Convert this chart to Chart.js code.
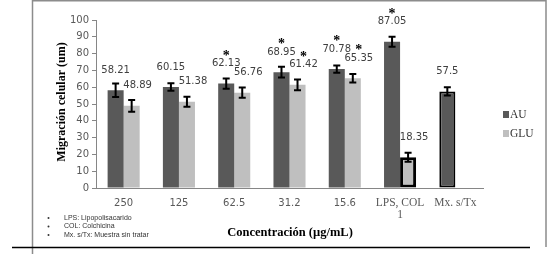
<!DOCTYPE html>
<html><head><meta charset="utf-8">
<script src="https://cdn.jsdelivr.net/npm/chart.js@4/dist/chart.umd.min.js"></script>
<style>html,body{margin:0;padding:0;background:#fff;overflow:hidden}</style>
</head><body><canvas id="c" width="549" height="254"></canvas>
<script>
const categories = ['250', '125', '62.5', '31.2', '15.6', ['LPS, COL', '1'], 'Mx. s/Tx'];
const auValues  = [58.21, 60.15, 62.13, 68.95, 70.78, 87.05, 57.5];
const gluValues = [48.89, 51.38, 56.76, 61.42, 65.35, 18.35, null];
const auErrors  = [4.0, 2.2, 3.0, 3.2, 2.2, 3.0, 2.5];
const gluErrors = [3.5, 3.0, 3.0, 3.2, 2.5, 2.7, null];
const auSignificant  = [false, false, true, true, true, true, false];
const gluSignificant = [false, false, false, true, true, false, false];
const yTicks = [0, 10, 20, 30, 40, 50, 60, 70, 80, 90, 100];
const notes = ['LPS: Lipopolisacarido', 'COL: Colchicina', 'Mx. s/Tx: Muestra sin tratar'];

const AU_COLOR = '#595959', GLU_COLOR = '#bfbfbf';
const auBorder = [0, 0, 0, 0, 0, 0, 2];
const gluBorder = [0, 0, 0, 0, 0, 3, 0];

const errs = [auErrors, gluErrors];
const sigs = [auSignificant, gluSignificant];

const decorPlugin = {
  id: 'decor',
  beforeDraw(chart) {
    const ctx = chart.ctx;
    ctx.save(); ctx.fillStyle = '#fff'; ctx.fillRect(0, 0, chart.width, chart.height); ctx.restore();
  },
  afterDatasetsDraw(chart) {
    const ctx = chart.ctx, y = chart.scales.y;
    ctx.save();
    chart.data.datasets.forEach((ds, di) => {
      const meta = chart.getDatasetMeta(di);
      meta.data.forEach((bar, i) => {
        const v = ds.data[i];
        if (v == null) return;
        const e = errs[di][i];
        const yt = y.getPixelForValue(v + e), yb = y.getPixelForValue(v - e);
        const x = bar.x;
        ctx.strokeStyle = '#000'; ctx.lineWidth = 2;
        ctx.beginPath();
        ctx.moveTo(x, yt); ctx.lineTo(x, yb);
        ctx.moveTo(x - 3.5, yt); ctx.lineTo(x + 3.5, yt);
        ctx.moveTo(x - 3.5, yb); ctx.lineTo(x + 3.5, yb);
        ctx.stroke();
        // value label
        const lx = x + (di === 1 ? 6 : 0);
        const ly = bar.y - 20;
        ctx.fillStyle = '#404040';
        ctx.font = '10px "DejaVu Sans"';
        ctx.textAlign = 'center'; ctx.textBaseline = 'middle';
        ctx.fillText(String(v), lx, ly);
        if (sigs[di][i]) {
          ctx.fillStyle = '#000';
          ctx.font = 'bold 14px "Liberation Serif"';
          ctx.textBaseline = 'alphabetic';
          ctx.fillText('*', lx, ly - 12 + 8);
        }
      });
    });
    ctx.restore();
  },
  afterDraw(chart) {
    const ctx = chart.ctx, ca = chart.chartArea;
    ctx.save();
    // frame
    ctx.strokeStyle = '#8c8c8c'; ctx.lineWidth = 1.5;
    ctx.beginPath();
    ctx.moveTo(32.5, 254); ctx.lineTo(32.5, 0.75); ctx.lineTo(546, 0.75); ctx.lineTo(546, 247);
    ctx.stroke();
    ctx.strokeStyle = '#000'; ctx.lineWidth = 1.5;
    ctx.beginPath(); ctx.moveTo(12, 247.5); ctx.lineTo(530, 247.5); ctx.stroke();
    // y title
    ctx.fillStyle = '#000';
    ctx.font = 'bold 12px "Liberation Serif"';
    ctx.textAlign = 'center'; ctx.textBaseline = 'middle';
    ctx.save(); ctx.translate(62, (ca.top + ca.bottom) / 2 - 2); ctx.rotate(-Math.PI / 2);
    ctx.fillText('Migración celular (um)', 0, 0); ctx.restore();
    // x title
    ctx.font = 'bold 12.5px "Liberation Serif"';
    ctx.fillText('Concentración (µg/mL)', 290, 233);
    // notes
    ctx.font = '7px "Liberation Sans"'; ctx.fillStyle = '#333';
    ctx.textAlign = 'left';
    notes.forEach((n, k) => {
      const yy = 218 + k * 8.5;
      ctx.beginPath(); ctx.arc(48.5, yy, 1, 0, Math.PI * 2); ctx.fill();
      ctx.fillText(n, 64, yy);
    });
    // legend
    const items = [['AU', AU_COLOR], ['GLU', GLU_COLOR]];
    ctx.font = '11.5px "Liberation Serif"';
    items.forEach(([t, c], k) => {
      const yy = 114.5 + k * 19;
      ctx.fillStyle = c; ctx.fillRect(503, yy - 3.5, 6, 7);
      ctx.fillStyle = '#333'; ctx.fillText(t, 510, yy + 0.5);
    });
    ctx.restore();
  }
};

new Chart(document.getElementById('c'), {
  type: 'bar',
  data: {
    labels: categories,
    datasets: [
      { label: 'AU', data: auValues, backgroundColor: AU_COLOR, borderColor: '#000',
        borderWidth: c => auBorder[c.dataIndex] || 0, borderSkipped: false,
        categoryPercentage: 0.58, barPercentage: 1.0 },
      { label: 'GLU', data: gluValues, backgroundColor: GLU_COLOR, borderColor: '#000',
        borderWidth: c => gluBorder[c.dataIndex] || 0, borderSkipped: false,
        categoryPercentage: 0.58, barPercentage: 1.0 }
    ]
  },
  options: {
    responsive: false, animation: false, devicePixelRatio: 1,
    layout: { padding: { left: 0, top: 20, right: 66, bottom: 0 } },
    plugins: { legend: { display: false }, title: { display: false }, tooltip: { enabled: false } },
    scales: {
      x: {
        afterFit: s => { s.height = 66; },
        grid: { display: true, drawOnChartArea: false, drawTicks: false },
        border: { display: true, color: '#868686', width: 1 },
        ticks: {
          padding: 9, color: '#595959', maxRotation: 0, autoSkip: false,
          font: c => (c.index >= 5 ? { family: '"Liberation Serif"', size: 11.5, lineHeight: 1.05 } : { family: '"DejaVu Sans"', size: 10 })
        }
      },
      y: {
        min: 0, max: 100,
        afterFit: s => { s.width = 96; },
        afterBuildTicks: s => { s.ticks = yTicks.map(v => ({ value: v })); },
        grid: { display: true, drawOnChartArea: false, drawTicks: true, tickLength: 4, color: '#868686' },
        border: { display: true, color: '#868686', width: 1 },
        ticks: { padding: 3, color: '#595959', font: { family: '"DejaVu Sans"', size: 10 } }
      }
    }
  },
  plugins: [decorPlugin]
});
</script>
</body></html>
